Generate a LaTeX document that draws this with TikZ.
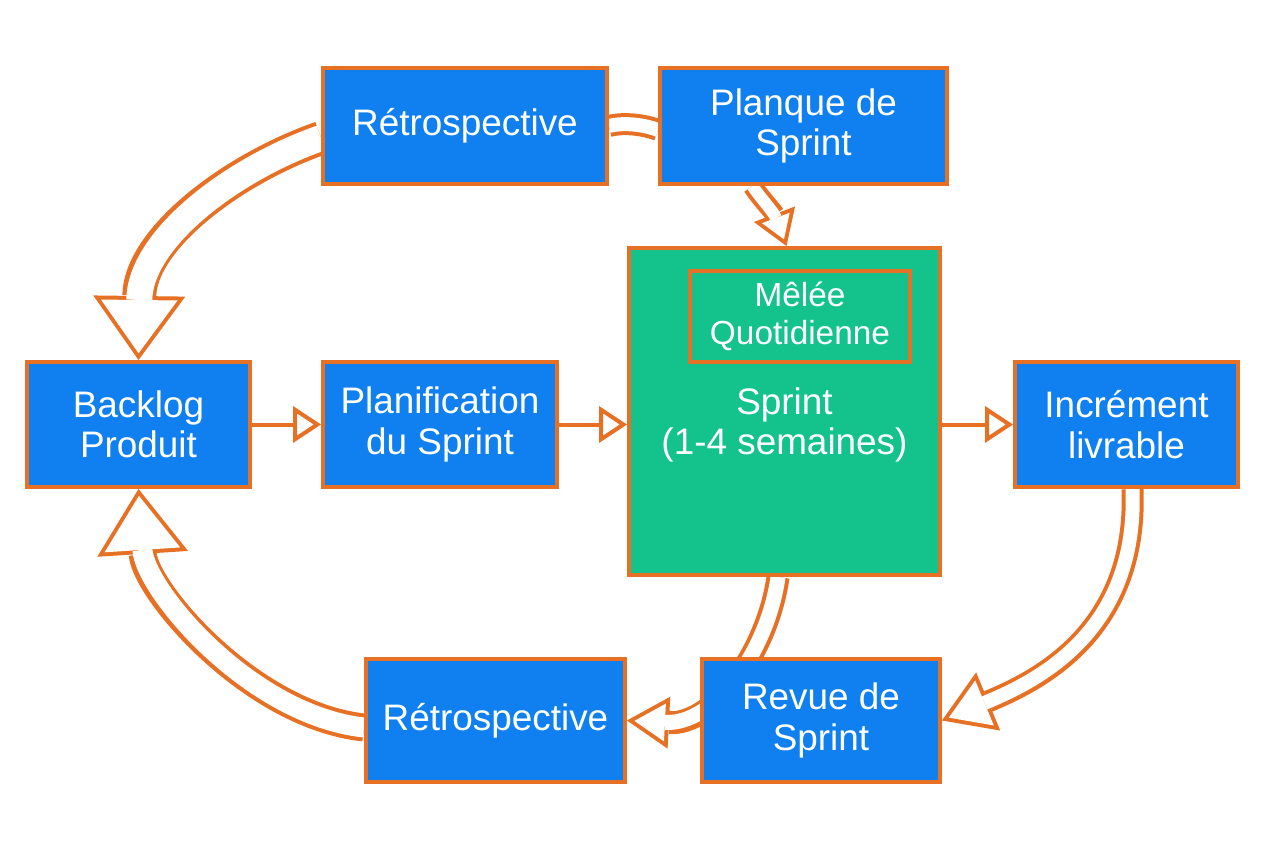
\documentclass[tikz,border=0pt]{standalone}
\usepackage{fontspec}
\setmainfont{Liberation Sans}
\usetikzlibrary{arrows.meta,calc,backgrounds}

\definecolor{boxblue}{RGB}{16,128,240}
\definecolor{sprintgreen}{RGB}{20,195,140}
\definecolor{edge}{RGB}{230,112,35}

\begin{document}
\begin{tikzpicture}[
    x=0.02cm, y=-0.02cm,
    box/.style={draw=edge, line width=0.08cm, fill=boxblue, text=white, align=center, inner sep=0pt,
      font=\fontsize{21}{23}\selectfont},
    arrow/.style={draw=edge, line width=0.08cm, -{Triangle[open, length=0.56cm, width=0.72cm]}},
    hollowline/.style={draw=edge, line width={(#1+4)*0.02cm},
      postaction={draw=white, line width={(#1-4)*0.02cm}}},
    % shaft, head length, head width (px)
    hollow/.style n args={3}{
      /utils/exec={
        \pgfmathsetmacro\hlo{(#2+4)*0.02}
        \pgfmathsetmacro\hwo{(#3+4)*0.02}
        \pgfmathsetmacro\hs{4/sin(atan((#3/2)/#2))*0.02}
        \pgfmathsetmacro\hli{\hlo-0.08-\hs}
        \pgfmathsetmacro\hwi{\hwo*\hli/\hlo}
      },
      draw=edge, line width={(#1+4)*0.02cm},
      -{Triangle[length=\hlo cm, width=\hwo cm, line width=0pt]},
      postaction={draw=white, line width={(#1-4)*0.02cm}, shorten >=\hs cm,
        -{Triangle[length=\hli cm, width=\hwi cm, line width=0pt]}}
    }
]
\useasboundingbox (0,0) rectangle (1264,848);

% boxes
\node[box, minimum width=5.68cm, minimum height=2.32cm] (retroT) at (465,126) {Rétrospective};
\node[box, minimum width=5.74cm, minimum height=2.32cm] (planque) at (803.5,126) {Planque de\\Sprint};
\node[box, fill=sprintgreen, minimum width=6.22cm, minimum height=6.54cm] (sprint) at (784.5,411.5) {};
\node[draw=edge, line width=0.08cm, minimum width=4.4cm, minimum height=1.82cm, text=white,
  align=center, font=\fontsize{19}{22}\selectfont] (melee) at (800,316.5) {Mêlée\\Quotidienne};
\node[text=white, align=center, font=\fontsize{21}{23}\selectfont] (sprintlbl) at (784.5,425) {Sprint\\(1-4 semaines)};
\node[box, minimum width=4.46cm, minimum height=2.5cm] (backlog) at (138.5,424.5) {Backlog\\Produit};
\node[box, minimum width=4.68cm, minimum height=2.5cm] (planif) at (440,424.5) {Planification\\du Sprint};
\node[box, minimum width=4.46cm, minimum height=2.5cm] (increment) at (1126.5,424.5) {Incrément\\livrable};
\node[box, minimum width=5.18cm, minimum height=2.46cm] (retroB) at (495.5,720.5) {Rétrospective};
\node[box, minimum width=4.76cm, minimum height=2.46cm] (revue) at (821,720.5) {Revue de\\Sprint};

% straight arrows
\draw[arrow] (backlog) -- (planif);
\draw[arrow] (planif.east) -- (planif.east -| sprint.west);
\draw[arrow] (sprint.east |- increment.west) -- (increment.west);

% hollow arrows behind the boxes
\begin{scope}[on background layer]
\fill[white] (0,0) rectangle (1264,848);
\draw[hollowline=18] (retroT.east) .. controls (625,122) and (645,125) .. ($(planque.west)+(0,4)$);
\draw[hollow={16}{30}{40}] ($(planque.south)+(-51,0)$) .. controls (762,200) and (773.5,211.6) .. ($(sprint.north)+(2,0)$);
\draw[hollow={30}{60}{88}] ($(retroT.west)+(0,12)$) .. controls (230,170) and (140,240) .. (backlog.north);
\draw[hollow={24}{61}{87}] ($(retroB.west)+(0,7)$) .. controls (250,715) and (145,590) .. (backlog.south);
\draw[hollow={19}{38}{48}] ($(sprint.south)+(-6.5,0)$) .. controls (768,650) and (715,725) .. (retroB.east);
\draw[hollow={18}{46}{59}] ($(increment.south)+(6,0)$) .. controls (1138,630) and (1040,680) .. (revue.east);
\end{scope}
\end{tikzpicture}
\end{document}
